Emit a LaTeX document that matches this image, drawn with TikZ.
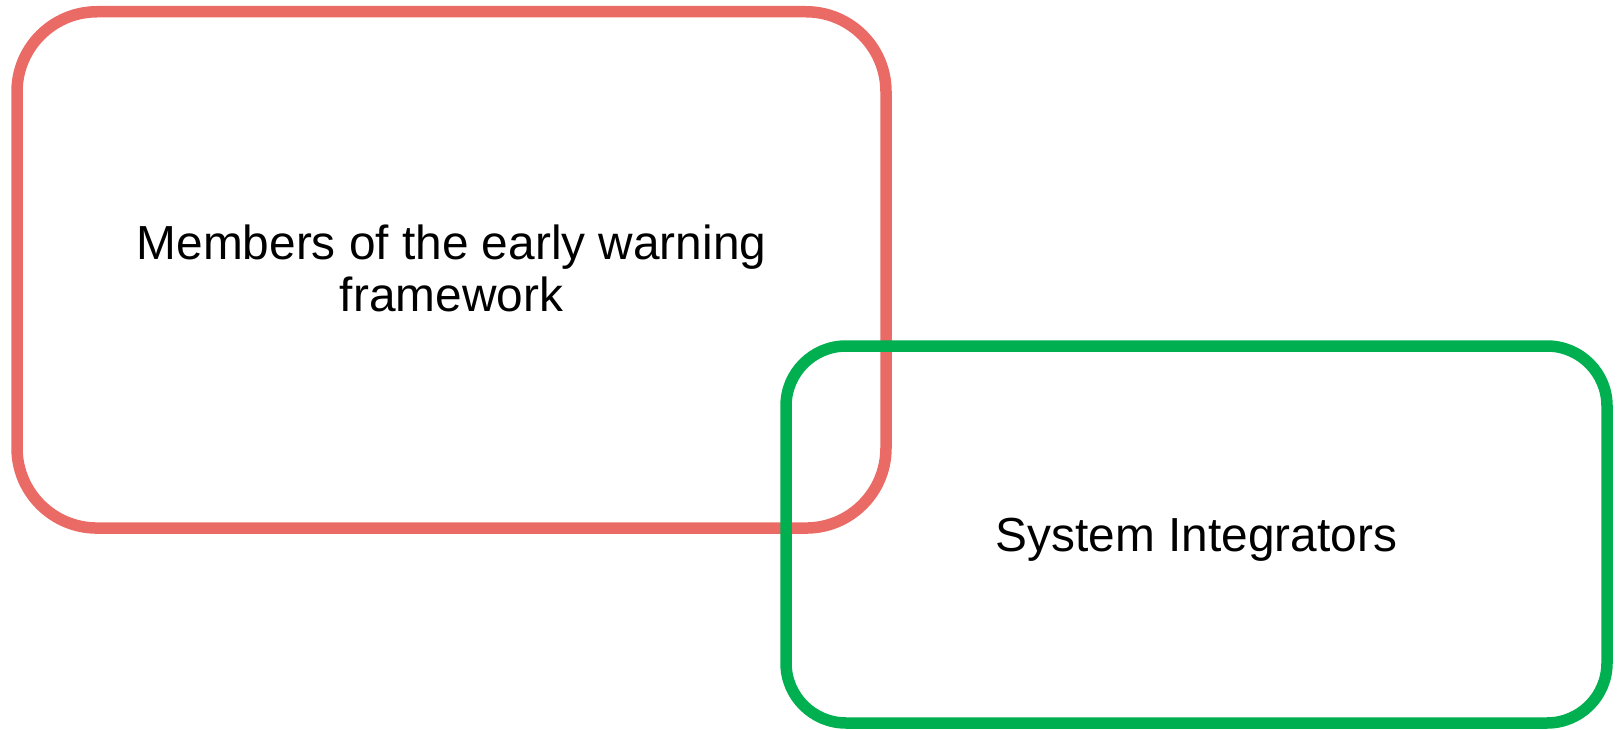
\documentclass[tikz,border=0pt]{standalone}
\usepackage{fontspec}
\setmainfont{Liberation Sans}
\definecolor{boxred}{HTML}{EA6B66}
\definecolor{boxgreen}{HTML}{00B050}
\begin{document}
\begin{tikzpicture}[x=1pt,y=-1pt,
  groupbox/.style={draw, line width=11.5pt, inner sep=0pt, fill=none},
  caption/.style={align=center, inner sep=0pt, font=\fontsize{47.8}{52.4}\selectfont}]
\useasboundingbox (0,0) rectangle (1617,730);
% group of framework members
\node[groupbox, draw=boxred, rounded corners=80pt,
      minimum width=869pt, minimum height=516.3pt] (members) at (451.5,269.9) {};
% group of system integrators, drawn on top
\node[groupbox, draw=boxgreen, rounded corners=60pt,
      minimum width=821pt, minimum height=377pt] (integrators) at (1196.5,534.5) {};
% captions (base anchor sits on the last line)
\node[caption, anchor=base] (memberslabel) at (451.5,311.7)
  {Members of the early warning\\framework};
\node[caption, anchor=base] (integratorslabel) at (1196.5,551.5) {System Integrators};
\end{tikzpicture}
\end{document}
